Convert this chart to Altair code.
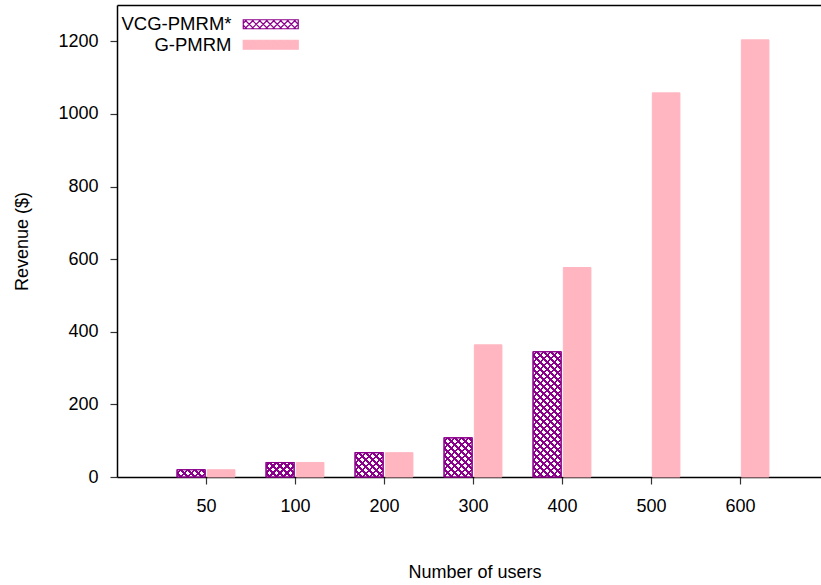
import altair as alt
import pandas as pd

# ---------------- data ----------------
users = [50, 100, 200, 300, 400, 500, 600]
vcg_revenue = [20, 40, 67, 108, 345, None, None]
g_revenue = [20, 40, 67, 364, 577, 1058, 1204]
series_names = ["VCG-PMRM*", "G-PMRM"]
y_ticks = [0, 200, 400, 600, 800, 1000, 1200]

# ---------------- style ----------------
PURPLE = "#8B008B"
PINK = "#FFB6C1"
CLEAR = "rgba(139,0,139,0)"
FONT = "Liberation Sans"
W, H = 704, 472
X_DOMAIN = [-1, 6.91]
Y_DOMAIN = [0, 1300]
PX_PER_X = W / (X_DOMAIN[1] - X_DOMAIN[0])
PX_PER_Y = H / (Y_DOMAIN[1] - Y_DOMAIN[0])
VCG_LO, VCG_HI = -0.325, -0.01
G_LO, G_HI = 0.015, 0.325

rows = []
for i, u in enumerate(users):
    for name, vals in zip(series_names, [vcg_revenue, g_revenue]):
        v = vals[i]
        if v is None:
            continue
        rows.append({"idx": i, "users": u, "series": name, "revenue": v})
df = pd.DataFrame(rows)

label_expr = "[" + ",".join(f"'{u}'" for u in users) + "][datum.value]"

x_scale = alt.Scale(domain=X_DOMAIN, nice=False, zero=False)
y_scale = alt.Scale(domain=Y_DOMAIN, nice=False)
y_axis = alt.Axis(values=y_ticks, format="d", title="Revenue ($)", grid=False,
                  tickSize=7, labelPadding=12, titleX=-90,
                  titleBaseline="alphabetic", titleFontWeight="normal")
y_enc = alt.Y("revenue:Q", scale=y_scale, axis=y_axis)
y2_enc = alt.datum(0)

base = alt.Chart(df).transform_calculate(
    x0=f"datum.series == 'G-PMRM' ? datum.idx + {G_LO} : datum.idx + ({VCG_LO})",
    x1=f"datum.series == 'G-PMRM' ? datum.idx + {G_HI} : datum.idx + ({VCG_HI})",
)

# ---- legend symbol: rectangle with cross-hatch (custom SVG path) ----
SYM_SIZE = 100.0                      # layout size of the symbol
UNIT = (SYM_SIZE ** 0.5) / 2          # pixels per path unit
SW, SH = 55.0, 9.0
hw = (SW / 2) / UNIT
hh = (SH / 2) / UNIT
sp = 7.0 / UNIT
parts = [f"M{-hw:.4f},{-hh:.4f}H{hw:.4f}V{hh:.4f}H{-hw:.4f}Z"]
x0 = -hw - 2 * hh + sp / 2
while x0 < hw:
    smin = max(0.0, (-hw - x0) / (2 * hh))
    smax = min(1.0, (hw - x0) / (2 * hh))
    if smin < smax:
        xa, xb = x0 + 2 * hh * smin, x0 + 2 * hh * smax
        ya, yb = -hh + 2 * hh * smin, -hh + 2 * hh * smax
        parts.append(f"M{xa:.4f},{ya:.4f}L{xb:.4f},{yb:.4f}")
        parts.append(f"M{xa:.4f},{-ya:.4f}L{xb:.4f},{-yb:.4f}")
    x0 += sp
legend_symbol = "".join(parts)


def make_legend():
    return alt.Legend(title=None, orient="none", legendX=144.5, legendY=10,
                      padding=0, symbolType=legend_symbol, symbolSize=SYM_SIZE,
                      symbolStrokeWidth=1.2, labelAlign="right",
                      labelOffset=alt.ExprRef(expr="-48.5"),
                      labelFontSize=18.5, labelFont=FONT, labelColor="black",
                      rowPadding=1.5)


main = base.mark_bar(strokeWidth=1).encode(
    x=alt.X("x0:Q", scale=x_scale,
            axis=alt.Axis(values=list(range(len(users))), labelExpr=label_expr,
                          title="Number of users", grid=False, tickSize=7,
                          labelPadding=13, titleY=100, titleX=357.5,
                          titleBaseline="alphabetic", titleFontWeight="normal")),
    x2="x1:Q",
    y=y_enc,
    y2=y2_enc,
    color=alt.Color("series:N",
                    scale=alt.Scale(domain=series_names, range=["white", PINK]),
                    legend=make_legend()),
    stroke=alt.Stroke("series:N",
                      scale=alt.Scale(domain=series_names, range=[PURPLE, PINK]),
                      legend=make_legend()),
)


# ---- cross-hatch for VCG bars via bounding-box gradients ----
def hatch(h, w, flip):
    k = 1.25
    denom = k * (w * w + h * h)
    period = 7.0 * w / denom
    thick = 2.4 * w / denom
    tmax = min(1.0, (w + h) * w / denom)
    stops = [alt.GradientStop(color=CLEAR, offset=0)]
    j = 0
    while True:
        c = (j + 0.5) * period
        a, b = c - thick / 2, min(1.0, c + thick / 2)
        if a >= tmax or a >= 1.0:
            break
        stops += [alt.GradientStop(color=CLEAR, offset=round(max(a, 0), 5)),
                  alt.GradientStop(color=PURPLE, offset=round(max(a, 0), 5)),
                  alt.GradientStop(color=PURPLE, offset=round(b, 5)),
                  alt.GradientStop(color=CLEAR, offset=round(b, 5))]
        j += 1
    if flip:
        return alt.LinearGradient(gradient="linear", stops=stops, x1=1, y1=0,
                                  x2=1 - k, y2=k * h / w)
    return alt.LinearGradient(gradient="linear", stops=stops, x1=0, y1=0,
                              x2=k, y2=k * h / w)


bar_w = (VCG_HI - VCG_LO) * PX_PER_X
hatch_layers = []
for u, v in zip(users, vcg_revenue):
    if v is None:
        continue
    h = v * PX_PER_Y
    for flip in (False, True):
        hatch_layers.append(
            base.transform_filter(
                f"datum.series == 'VCG-PMRM*' && datum.users == {u}"
            ).mark_bar(fill=hatch(h, bar_w, flip), strokeWidth=0).encode(
                x=alt.X("x0:Q", scale=x_scale, axis=None),
                x2="x1:Q",
                y=y_enc,
                y2=y2_enc,
            )
        )

outline = base.transform_filter("datum.series == 'VCG-PMRM*'").mark_bar(
    fillOpacity=0, stroke=PURPLE, strokeWidth=1.2
).encode(
    x=alt.X("x0:Q", scale=x_scale,
            axis=alt.Axis(orient="top", labels=False, ticks=False, domain=True,
                          title=None, grid=False)),
    x2="x1:Q",
    y=y_enc,
    y2=y2_enc,
)

chart = alt.layer(main, *hatch_layers, outline).resolve_axis(
    x="independent"
).properties(
    width=W, height=H,
    autosize=alt.AutoSizeParams(type="none"),
    padding={"left": 117, "top": 5, "right": 0, "bottom": 108},
).configure(font=FONT).configure_view(strokeWidth=0).configure_axis(
    labelFontSize=18, titleFontSize=18, labelFont=FONT, titleFont=FONT,
    labelColor="black", titleColor="black", domainColor="black",
    domainWidth=1.5, tickColor="#333333", tickWidth=1.2,
)

chart.save("out.html", embed_options={"renderer": "svg", "actions": False})
